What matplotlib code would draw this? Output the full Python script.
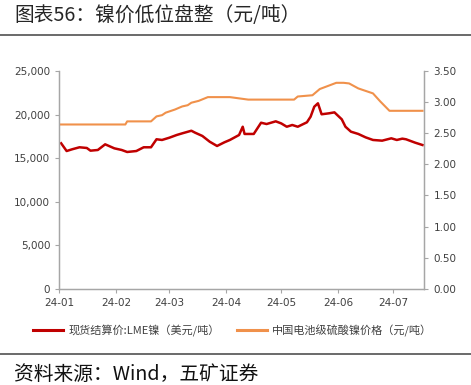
import pandas as pd
import matplotlib.pyplot as plt
from matplotlib.lines import Line2D

plt.rcParams['font.family'] = ['Noto Sans CJK SC', 'DejaVu Sans']

# 现货结算价:LME镍（美元/吨）
lme_dates = ['2024-01-02', '2024-01-05', '2024-01-08', '2024-01-12', '2024-01-16',
             '2024-01-18', '2024-01-22', '2024-01-26', '2024-01-31', '2024-02-04',
             '2024-02-07', '2024-02-12', '2024-02-16', '2024-02-20', '2024-02-23',
             '2024-02-26', '2024-03-01', '2024-03-05', '2024-03-08', '2024-03-13',
             '2024-03-15', '2024-03-19', '2024-03-23', '2024-03-27', '2024-03-31',
             '2024-04-03', '2024-04-08', '2024-04-10', '2024-04-11', '2024-04-16',
             '2024-04-20', '2024-04-23', '2024-04-28', '2024-05-01', '2024-05-04',
             '2024-05-07', '2024-05-10', '2024-05-15', '2024-05-17', '2024-05-19',
             '2024-05-21', '2024-05-23', '2024-05-27', '2024-05-30', '2024-06-03',
             '2024-06-05', '2024-06-08', '2024-06-12', '2024-06-16', '2024-06-20',
             '2024-06-25', '2024-06-30', '2024-07-03', '2024-07-06', '2024-07-08',
             '2024-07-13', '2024-07-17']
lme_values = [16700, 15810, 16010, 16240, 16160,
              15850, 15930, 16580, 16120, 15930,
              15700, 15810, 16240, 16240, 17160,
              17080, 17340, 17650, 17840, 18140,
              17920, 17540, 16880, 16390, 16810,
              17080, 17650, 18600, 17770, 17770,
              19060, 18910, 19220, 18980, 18600,
              18800, 18600, 19110, 19750, 20900,
              21290, 20030, 20140, 20250, 19450,
              18600, 18030, 17770, 17380, 17080,
              17000, 17270, 17080, 17230, 17160,
              16770, 16500]

# 中国电池级硫酸镍价格（元/吨），右轴
nis_dates = ['2024-01-01', '2024-02-06', '2024-02-07', '2024-02-20', '2024-02-23',
             '2024-02-26', '2024-02-28', '2024-03-01', '2024-03-04', '2024-03-08',
             '2024-03-11', '2024-03-13', '2024-03-17', '2024-03-22', '2024-04-03',
             '2024-04-08', '2024-04-13', '2024-05-08', '2024-05-10', '2024-05-18',
             '2024-05-22', '2024-05-31', '2024-06-04', '2024-06-07', '2024-06-12',
             '2024-06-20', '2024-06-24', '2024-06-29', '2024-07-17']
nis_values = [2.64, 2.64, 2.69, 2.69, 2.77,
              2.79, 2.83, 2.85, 2.88, 2.93,
              2.95, 2.99, 3.02, 3.08, 3.08,
              3.06, 3.04, 3.04, 3.09, 3.11,
              3.21, 3.31, 3.31, 3.30, 3.22,
              3.14, 3.01, 2.86, 2.86]

month_ticks = ['2024-01-01', '2024-02-01', '2024-03-01', '2024-04-01',
               '2024-05-01', '2024-06-01', '2024-07-01']
month_labels = ['24-01', '24-02', '24-03', '24-04', '24-05', '24-06', '24-07']

red = '#C00000'
orange = '#F0914B'
grey = '#A6A6A6'
text_c = '#404040'

fig = plt.figure(figsize=(4.71, 3.85), dpi=100)
ax = fig.add_axes([0.1259, 0.2501, 0.775, 0.5655])
ax2 = ax.twinx()

ax.plot(pd.to_datetime(lme_dates), lme_values, color=red, lw=1.8)
ax2.plot(pd.to_datetime(nis_dates), nis_values, color=orange, lw=1.5)

ax.set_xlim(pd.Timestamp('2024-01-01'), pd.Timestamp('2024-07-18'))
ax.set_ylim(0, 25000)
ax2.set_ylim(0, 3.5)
ax.set_yticks(range(0, 25001, 5000))
ax.set_yticklabels([f'{v:,}' for v in range(0, 25001, 5000)])
ax2.set_yticks([i * 0.5 for i in range(8)])
ax2.set_yticklabels([f'{i * 0.5:.2f}' for i in range(8)])
ax.set_xticks(pd.to_datetime(month_ticks))
ax.set_xticklabels(month_labels)

for a in (ax, ax2):
    a.spines['top'].set_visible(False)
    for s in ('left', 'right', 'bottom'):
        a.spines[s].set_color(grey)
        a.spines[s].set_linewidth(0.9)
    a.tick_params(colors=grey, labelcolor=text_c, labelsize=7.5, length=3, width=0.8)
    for lab in a.get_xticklabels() + a.get_yticklabels():
        lab.set_family(['DejaVu Sans'])

handles = [Line2D([], [], color=red, lw=2.2), Line2D([], [], color=orange, lw=2.2)]
labels = ['现货结算价:LME镍（美元/吨）', '中国电池级硫酸镍价格（元/吨）']
fig.legend(handles, labels, loc='center', bbox_to_anchor=(0.494, 0.141), ncol=2,
           frameon=False, fontsize=8, handlelength=2.7, handletextpad=0.45,
           columnspacing=1.6, labelcolor=text_c)

fig.text(0.03, 0.961, '图表56：镍价低位盘整（元/吨）', fontsize=14.2, color='#262626', va='center')
fig.text(0.03, 0.026, '资料来源：Wind，五矿证券', fontsize=14.2, color='#111111', va='center')
fig.add_artist(Line2D([0, 1], [0.91, 0.91], color='#505050', lw=1.2, transform=fig.transFigure))
fig.add_artist(Line2D([0, 1], [0.0805, 0.0805], color='#505050', lw=1.2, transform=fig.transFigure))

fig.savefig('out.png', dpi=100)
